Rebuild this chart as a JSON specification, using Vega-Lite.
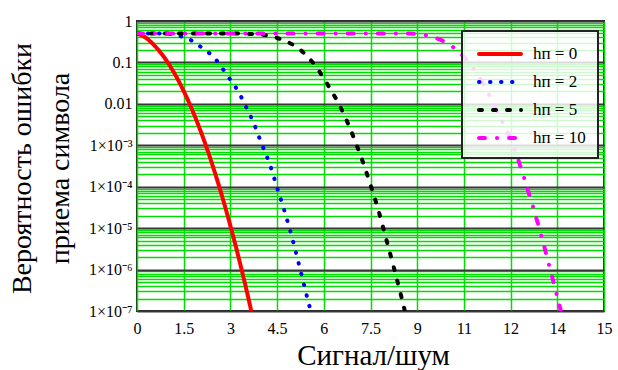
{
  "$schema": "https://vega.github.io/schema/vega-lite/v6.json",
  "width": 467,
  "height": 290,
  "autosize": {"type": "none"},
  "padding": {"left": 137, "top": 21, "right": 14, "bottom": 59},
  "background": "white",
  "config": {
    "view": {"stroke": "#222222", "strokeWidth": 2},
    "font": "Liberation Serif, serif"
  },
  "data": {
    "values": [
      {"h": "hп = 0", "x": 0, "p": 0.5},
      {"h": "hп = 0", "x": 0.25, "p": 0.41},
      {"h": "hп = 0", "x": 0.5, "p": 0.285},
      {"h": "hп = 0", "x": 0.75, "p": 0.176},
      {"h": "hп = 0", "x": 1.0, "p": 0.0966},
      {"h": "hп = 0", "x": 1.25, "p": 0.0471},
      {"h": "hп = 0", "x": 1.5, "p": 0.0204},
      {"h": "hп = 0", "x": 1.75, "p": 0.00785},
      {"h": "hп = 0", "x": 2.0, "p": 0.00269},
      {"h": "hп = 0", "x": 2.25, "p": 0.000818},
      {"h": "hп = 0", "x": 2.5, "p": 0.000221},
      {"h": "hп = 0", "x": 2.75, "p": 5.32e-5},
      {"h": "hп = 0", "x": 3.0, "p": 1.135e-5},
      {"h": "hп = 0", "x": 3.25, "p": 2.15e-6},
      {"h": "hп = 0", "x": 3.5, "p": 3.63e-7},
      {"h": "hп = 0", "x": 3.75, "p": 5.43e-8},

      {"h": "hп = 2", "x": 0, "p": 0.5},
      {"h": "hп = 2", "x": 0.5, "p": 0.5},
      {"h": "hп = 2", "x": 1.0, "p": 0.49},
      {"h": "hп = 2", "x": 1.25, "p": 0.457},
      {"h": "hп = 2", "x": 1.5, "p": 0.407},
      {"h": "hп = 2", "x": 1.75, "p": 0.339},
      {"h": "hп = 2", "x": 2.0, "p": 0.251},
      {"h": "hп = 2", "x": 2.25, "p": 0.186},
      {"h": "hп = 2", "x": 2.5, "p": 0.126},
      {"h": "hп = 2", "x": 2.75, "p": 0.0708},
      {"h": "hп = 2", "x": 3.0, "p": 0.038},
      {"h": "hп = 2", "x": 3.25, "p": 0.02},
      {"h": "hп = 2", "x": 3.5, "p": 0.00851},
      {"h": "hп = 2", "x": 3.75, "p": 0.00339},
      {"h": "hп = 2", "x": 4.0, "p": 0.0011},
      {"h": "hп = 2", "x": 4.25, "p": 0.000372},
      {"h": "hп = 2", "x": 4.5, "p": 9.55e-5},
      {"h": "hп = 2", "x": 4.75, "p": 2.4e-5},
      {"h": "hп = 2", "x": 5.0, "p": 5.25e-6},
      {"h": "hп = 2", "x": 5.25, "p": 9.55e-7},
      {"h": "hп = 2", "x": 5.5, "p": 1.7e-7},
      {"h": "hп = 2", "x": 5.65, "p": 6.31e-8},

      {"h": "hп = 5", "x": 0, "p": 0.5},
      {"h": "hп = 5", "x": 3.0, "p": 0.5},
      {"h": "hп = 5", "x": 3.5, "p": 0.49},
      {"h": "hп = 5", "x": 4.0, "p": 0.468},
      {"h": "hп = 5", "x": 4.5, "p": 0.389},
      {"h": "hп = 5", "x": 5.0, "p": 0.269},
      {"h": "hп = 5", "x": 5.25, "p": 0.2},
      {"h": "hп = 5", "x": 5.5, "p": 0.132},
      {"h": "hп = 5", "x": 5.75, "p": 0.0794},
      {"h": "hп = 5", "x": 6.0, "p": 0.0407},
      {"h": "hп = 5", "x": 6.25, "p": 0.0204},
      {"h": "hп = 5", "x": 6.5, "p": 0.00933},
      {"h": "hп = 5", "x": 6.75, "p": 0.00372},
      {"h": "hп = 5", "x": 7.0, "p": 0.00129},
      {"h": "hп = 5", "x": 7.25, "p": 0.000407},
      {"h": "hп = 5", "x": 7.5, "p": 0.00011},
      {"h": "hп = 5", "x": 7.75, "p": 2.75e-5},
      {"h": "hп = 5", "x": 8.0, "p": 5.62e-6},
      {"h": "hп = 5", "x": 8.25, "p": 1.12e-6},
      {"h": "hп = 5", "x": 8.5, "p": 2.09e-7},
      {"h": "hп = 5", "x": 8.65, "p": 7.08e-8},

      {"h": "hп = 10", "x": 0, "p": 0.5},
      {"h": "hп = 10", "x": 8.5, "p": 0.5},
      {"h": "hп = 10", "x": 9.0, "p": 0.49},
      {"h": "hп = 10", "x": 9.5, "p": 0.407},
      {"h": "hп = 10", "x": 10.0, "p": 0.282},
      {"h": "hп = 10", "x": 10.25, "p": 0.204},
      {"h": "hп = 10", "x": 10.5, "p": 0.138},
      {"h": "hп = 10", "x": 10.75, "p": 0.0813},
      {"h": "hп = 10", "x": 11.0, "p": 0.0427},
      {"h": "hп = 10", "x": 11.25, "p": 0.02},
      {"h": "hп = 10", "x": 11.5, "p": 0.00851},
      {"h": "hп = 10", "x": 11.75, "p": 0.00355},
      {"h": "hп = 10", "x": 12.0, "p": 0.00138},
      {"h": "hп = 10", "x": 12.25, "p": 0.000437},
      {"h": "hп = 10", "x": 12.5, "p": 0.000112},
      {"h": "hп = 10", "x": 12.75, "p": 2.75e-5},
      {"h": "hп = 10", "x": 13.0, "p": 6.03e-6},
      {"h": "hп = 10", "x": 13.25, "p": 1.17e-6},
      {"h": "hп = 10", "x": 13.5, "p": 2.19e-7},
      {"h": "hп = 10", "x": 13.7, "p": 5.62e-8}
    ]
  },
  "mark": {"type": "line", "clip": true, "strokeWidth": 4, "strokeCap": "round", "strokeJoin": "round", "interpolate": "monotone"},
  "encoding": {
    "x": {
      "field": "x", "type": "quantitative",
      "scale": {"domain": [0, 15], "nice": false, "zero": false},
      "axis": {
        "values": [0, 1.5, 3, 4.5, 6, 7.5, 9, 10.5, 12, 13.5, 15],
        "format": "~g",
        "grid": true, "gridColor": "#00dd00", "gridWidth": 1.5,
        "ticks": false, "domain": false,
        "labelFont": "Liberation Serif, serif", "labelFontSize": 16, "labelColor": "black", "labelPadding": 9,
        "labelOverlap": false, "labelBound": false, "labelFlush": false,
        "title": "Сигнал/шум",
        "titleFont": "Liberation Serif, serif", "titleFontSize": 29, "titleFontWeight": "normal", "titleColor": "black",
        "titleY": 53, "titleX": 236, "titleBaseline": "alphabetic", "titleAlign": "center"
      }
    },
    "y": {
      "field": "p", "type": "quantitative",
      "scale": {"type": "log", "domain": [1e-7, 1], "nice": false},
      "axis": {
        "values": [1e-7, 2e-7, 3e-7, 4e-7, 5e-7, 6e-7, 7e-7, 8e-7, 9e-7,
                   1e-6, 2e-6, 3e-6, 4e-6, 5e-6, 6e-6, 7e-6, 8e-6, 9e-6,
                   1e-5, 2e-5, 3e-5, 4e-5, 5e-5, 6e-5, 7e-5, 8e-5, 9e-5,
                   1e-4, 2e-4, 3e-4, 4e-4, 5e-4, 6e-4, 7e-4, 8e-4, 9e-4,
                   1e-3, 2e-3, 3e-3, 4e-3, 5e-3, 6e-3, 7e-3, 8e-3, 9e-3,
                   0.01, 0.02, 0.03, 0.04, 0.05, 0.06, 0.07, 0.08, 0.09,
                   0.1, 0.2, 0.3, 0.4, 0.5, 0.6, 0.7, 0.8, 0.9, 1],
        "labelExpr": "abs(log(datum.value)/LN10 - round(log(datum.value)/LN10)) > 0.01 ? '' : (round(log(datum.value)/LN10) == 0 ? '1' : round(log(datum.value)/LN10) == -1 ? '0.1' : round(log(datum.value)/LN10) == -2 ? '0.01' : '1×10⁻' + ['', '', '', '³', '⁴', '⁵', '⁶', '⁷'][-round(log(datum.value)/LN10)])",
        "grid": true,
        "gridColor": {"condition": {"test": "abs(log(datum.value)/LN10 - round(log(datum.value)/LN10)) < 0.01", "value": "#383838"}, "value": "#00dd00"},
        "gridWidth": {"condition": {"test": "abs(log(datum.value)/LN10 - round(log(datum.value)/LN10)) < 0.01", "value": 2}, "value": 1.5},
        "ticks": false, "domain": false,
        "labelFont": "Liberation Serif, serif", "labelFontSize": 16, "labelColor": "black", "labelPadding": 5,
        "labelOverlap": false, "labelBound": false, "labelFlush": false,
        "title": ["Вероятность ошибки", "приема символа"],
        "titleFont": "Liberation Serif, serif", "titleFontSize": 28, "titleFontWeight": "normal", "titleColor": "black",
        "titleLineHeight": 38, "titleX": -107, "titleY": 147, "titleAngle": -90,
        "titleBaseline": "alphabetic", "titleAlign": "center"
      }
    },
    "color": {
      "field": "h", "type": "nominal",
      "scale": {"domain": ["hп = 0", "hп = 2", "hп = 5", "hп = 10"], "range": ["#ff0000", "#0000ff", "#000000", "#ff00ff"]},
      "legend": {
        "orient": "none", "legendX": 325, "legendY": 10, "title": null,
        "symbolType": "M-0.667,0H4", "symbolSize": 324, "symbolStrokeWidth": 4,
        "labelFont": "Liberation Serif, serif", "labelFontSize": 17, "labelColor": "black", "labelOffset": 37,
        "rowPadding": 9, "padding": 12,
        "strokeColor": "#222222", "fillColor": "rgba(255,255,255,0.82)", "cornerRadius": 0,
        "encode": {"symbols": {"update": {"strokeCap": {"value": "round"}, "fill": {"value": "transparent"}}}, "legend": {"update": {"strokeWidth": {"value": 2}}}}
      }
    },
    "strokeDash": {
      "field": "h", "type": "nominal",
      "scale": {"domain": ["hп = 0", "hп = 2", "hп = 5", "hп = 10"], "range": [[1, 0], [0.5, 10.5], [3, 11], [6, 12, 0.1, 12]]},
      "legend": {
        "orient": "none", "legendX": 325, "legendY": 10, "title": null,
        "symbolType": "M-0.667,0H4", "symbolSize": 324, "symbolStrokeWidth": 4,
        "labelFont": "Liberation Serif, serif", "labelFontSize": 17, "labelColor": "black", "labelOffset": 37,
        "rowPadding": 9, "padding": 12,
        "strokeColor": "#222222", "fillColor": "rgba(255,255,255,0.82)", "cornerRadius": 0,
        "encode": {"symbols": {"update": {"strokeCap": {"value": "round"}, "fill": {"value": "transparent"}}}, "legend": {"update": {"strokeWidth": {"value": 2}}}}
      }
    }
  }
}
